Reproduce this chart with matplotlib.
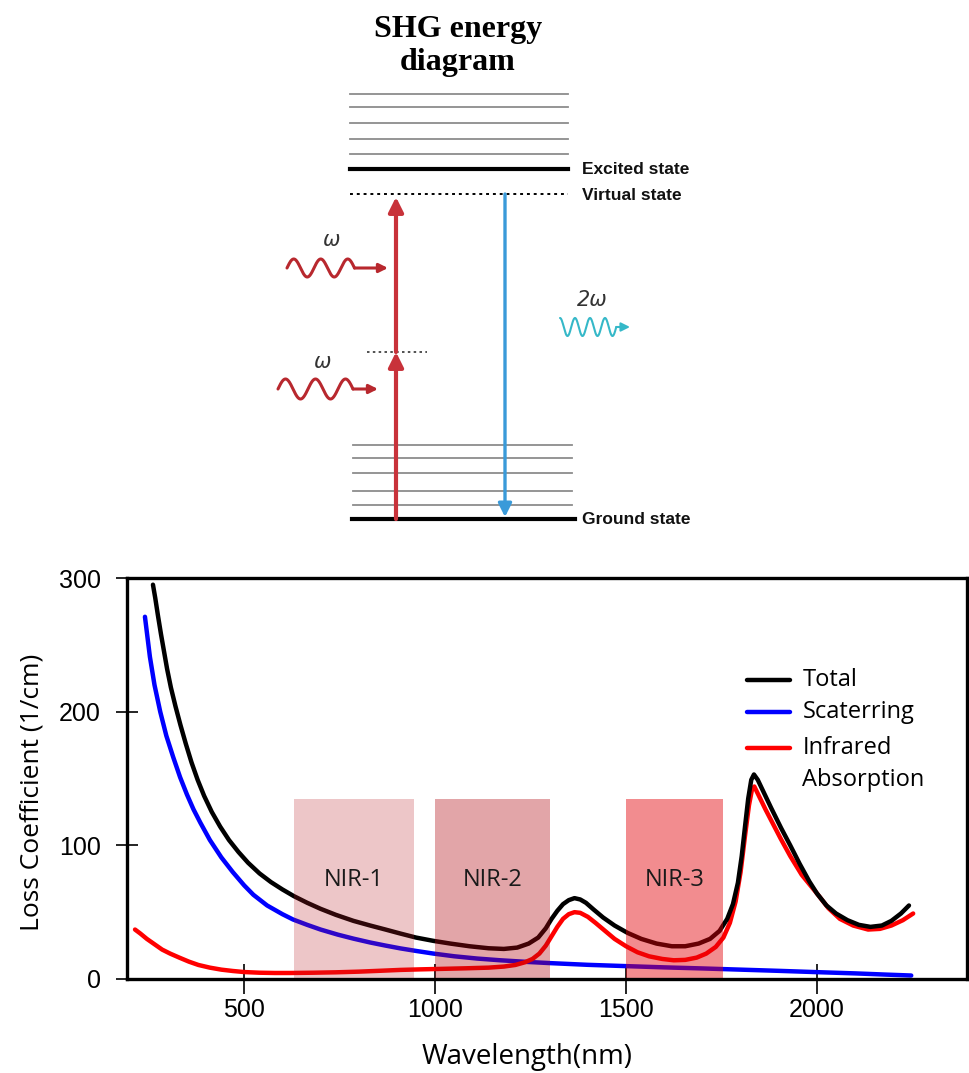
import numpy as np
import matplotlib.pyplot as plt
from matplotlib.patches import Rectangle

# Loss spectra, wavelength in nm and loss coefficient in 1/cm
total_nm = [261, 267, 274, 282, 290, 298, 308, 320, 333, 347, 362, 378, 395, 415,
            437, 460, 485, 510, 540, 570, 600, 630, 665, 700, 740, 786, 830, 870,
            909, 950, 996, 1040, 1090, 1140, 1180, 1215, 1245, 1270, 1290, 1305,
            1320, 1335, 1350, 1365, 1380, 1395, 1415, 1440, 1470, 1504, 1540, 1580,
            1620, 1655, 1690, 1720, 1745, 1765, 1780, 1793, 1803, 1812, 1820, 1828,
            1835, 1845, 1860, 1880, 1906, 1930, 1955, 1980, 2000, 2025, 2050, 2080,
            2110, 2140, 2170, 2195, 2220, 2241]
total_loss = [295, 285, 272, 258, 245, 232, 218, 204, 190, 176, 162, 149, 137, 125,
              114, 104, 95, 87, 79, 72.5, 67, 62, 57, 52.5, 48, 43.5, 40, 37,
              34, 31, 28.5, 26.5, 24.5, 23, 22.5, 23.5, 26.5, 31, 38, 45,
              51, 56, 59, 60.5, 59.5, 57, 52, 46, 40, 34.5, 30, 26.5,
              24.5, 24.5, 26.5, 30, 36, 45, 56, 72, 92, 115, 135, 149,
              153, 149, 140, 128, 113, 100, 86, 73, 64, 55, 49, 44,
              40.5, 39, 40, 43.5, 49, 55]

scatter_nm = [240, 253, 265, 280, 296, 314, 332, 350, 367, 385, 410, 440, 470, 500,
              524, 560, 600, 628, 665, 700, 745, 786, 830, 870, 909, 950, 996, 1050,
              1110, 1171, 1240, 1300, 1400, 1504, 1600, 1700, 1800, 1900, 2003, 2100,
              2180, 2247]
scatter_loss = [271, 241, 220, 200, 182, 166, 151, 138, 127, 117, 104, 91, 80, 70,
                63, 55, 48.5, 44.5, 40.5, 37, 33.2, 30.2, 27.3, 25, 22.9, 21, 19, 17,
                15.3, 14, 12.8, 11.9, 10.6, 9.6, 8.7, 7.9, 7, 6.1, 5.1, 4.2,
                3.3, 2.6]

ir_nm = [214, 228, 245, 265, 285, 306, 330, 355, 380, 410, 440, 470, 500, 540,
         580, 620, 680, 740, 800, 860, 909, 960, 1020, 1080, 1140, 1180, 1210, 1235,
         1255, 1273, 1290, 1305, 1320, 1335, 1350, 1365, 1380, 1400, 1420, 1445,
         1470, 1500, 1530, 1560, 1595, 1625, 1655, 1685, 1710, 1735, 1755, 1772,
         1787, 1800, 1812, 1822, 1830, 1836, 1848, 1865, 1885, 1905, 1930, 1960,
         2000, 2030, 2060, 2095, 2134, 2165, 2195, 2225, 2252]
ir_loss = [37, 34, 30, 26, 22, 19, 16, 13, 10.5, 8.5, 7, 6, 5.2, 4.7,
           4.5, 4.5, 4.7, 5, 5.5, 6.2, 6.8, 7.2, 7.6, 8, 8.5, 9.3, 10.5, 12.5,
           15, 19, 25, 32, 39, 45, 48.5, 50, 49.5, 46.5, 42, 36,
           30, 24.5, 20, 17, 15, 14, 14.3, 16, 19, 24, 31, 42,
           58, 80, 108, 130, 142, 144, 137, 127, 116, 105, 92, 78,
           64, 53, 45, 40, 37, 37.5, 40, 44, 49]

# NIR windows
band_names = ['NIR-1', 'NIR-2', 'NIR-3']
band_start = [630, 1000, 1500]
band_end = [945, 1300, 1755]
band_top = 135
band_label_y = 74
band_colors = ['#b81c24', '#af060e', '#e30007']
band_alpha = [0.25, 0.36, 0.45]

xticks = [500, 1000, 1500, 2000]
yticks = [0, 100, 200, 300]

legend_labels = ['Total', 'Scaterring', 'Infrared\nAbsorption']
legend_colors = ['black', '#0000ff', '#ff0000']

# Energy diagram levels (diagram units, growing downwards)
upper_levels = [94, 107, 123, 139, 154]
excited_level = 169
virtual_level = 194
half_level = 352
lower_levels = [445, 458, 473, 491, 505]
ground_level = 519

fig = plt.figure(figsize=(9.7, 10.73), dpi=100)

# ---- SHG energy diagram ----
ad = fig.add_axes([0, 0, 1, 1])
ad.set_xlim(0, 970)
ad.set_ylim(1073, 0)
ad.axis('off')

ad.text(458, 46, 'SHG energy\ndiagram', ha='center', va='center', fontsize=23,
        fontweight='bold', family='Liberation Serif', linespacing=1.2)

for lv in upper_levels:
    ad.plot([350, 568], [lv, lv], color='#8c8c8c', lw=1.3)
for lv in lower_levels:
    ad.plot([353, 572], [lv, lv], color='#8c8c8c', lw=1.3)
ad.plot([350, 568], [excited_level] * 2, color='black', lw=3)
ad.plot([352, 575], [ground_level] * 2, color='black', lw=3)
ad.plot([350, 568], [virtual_level] * 2, color='black', lw=1.4, ls=(0, (1.5, 2)))
ad.plot([367, 427], [half_level] * 2, color='#333333', lw=1.2, ls=(0, (1.5, 2)))

state_font = dict(fontsize=12.5, fontweight='bold', family='Liberation Sans',
                  va='center', ha='left', color='#111111')
ad.text(582, excited_level, 'Excited state', **state_font)
ad.text(582, virtual_level + 2, 'Virtual state', **state_font)
ad.text(582, ground_level, 'Ground state', **state_font)

red_arrow = '#c8323a'
blue_arrow = '#3a9ad9'
ad.annotate('', xy=(396, half_level), xytext=(396, ground_level),
            arrowprops=dict(arrowstyle='-|>', color=red_arrow, lw=3,
                            mutation_scale=22, shrinkA=0, shrinkB=0))
ad.annotate('', xy=(396, virtual_level + 3), xytext=(396, half_level),
            arrowprops=dict(arrowstyle='-|>', color=red_arrow, lw=3,
                            mutation_scale=22, shrinkA=0, shrinkB=0))
ad.annotate('', xy=(505, ground_level - 2), xytext=(505, virtual_level),
            arrowprops=dict(arrowstyle='-|>', color=blue_arrow, lw=2.4,
                            mutation_scale=20, shrinkA=0, shrinkB=0))


def photon(x0, n_periods, period, tip, yc, amp, color, lw, start='sin'):
    x1 = x0 + n_periods * period
    xs = np.linspace(x0, x1, 300)
    ph = 2 * np.pi * (xs - x0) / period
    ys = yc - amp * (np.sin(ph) if start == 'sin' else np.cos(ph))
    ad.plot(xs, ys, color=color, lw=lw, solid_capstyle='round')
    ad.annotate('', xy=(tip, yc), xytext=(x1, yc),
                arrowprops=dict(arrowstyle='-|>', color=color, lw=lw,
                                mutation_scale=13, shrinkA=0, shrinkB=0))


photon(287, 2.5, 27, 388, 268, 9, '#b8282e', 2.2)
photon(278, 2.5, 30, 378, 389, 10, '#b8282e', 2.2)
photon(560, 3.75, 15, 630, 327, 9, '#35b8c8', 1.5, start='cos')

ad.text(332, 240, 'ω', fontsize=15, style='italic', color='#333333',
        ha='center', va='center')
ad.text(323, 362, 'ω', fontsize=15, style='italic', color='#333333',
        ha='center', va='center')
ad.text(592, 300, '2ω', fontsize=15, style='italic', color='#333333',
        ha='center', va='center')

# ---- loss spectrum ----
ax = fig.add_axes([127 / 970, 1 - 979 / 1073, 840 / 970, 401 / 1073])
ax.set_xlim(193, 2393)
ax.set_ylim(0, 300)

ax.plot(scatter_nm, scatter_loss, color='#0000ff', lw=3.2, solid_capstyle='round',
        solid_joinstyle='round')
ax.plot(ir_nm, ir_loss, color='#ff0000', lw=3.2, solid_capstyle='round',
        solid_joinstyle='round')
ax.plot(total_nm, total_loss, color='black', lw=3.2, solid_capstyle='round',
        solid_joinstyle='round')

for name, x0, x1, c, a in zip(band_names, band_start, band_end, band_colors, band_alpha):
    ax.add_patch(Rectangle((x0, 0), x1 - x0, band_top, facecolor=c, alpha=a,
                           edgecolor='none', zorder=2.3))
    ax.text((x0 + x1) / 2, band_label_y, name, ha='center', va='center',
            fontsize=17, family='Open Sans', color='#1a1a1a', zorder=3)

for spine in ax.spines.values():
    spine.set_linewidth(2.4)

ax.set_xticks(xticks)
ax.set_yticks(yticks)
ax.tick_params(axis='y', direction='inout', length=16, width=1.2, labelsize=18, pad=11)
ax.tick_params(axis='x', direction='inout', length=21, width=1.2, labelsize=18, pad=3)
for lbl in ax.get_xticklabels() + ax.get_yticklabels():
    lbl.set_fontfamily('Liberation Sans')

ax.set_xlabel('Wavelength(nm)', fontsize=20, family='Open Sans')
ax.xaxis.set_label_coords(0.476, -0.195)
ax.xaxis.label.set_va('center')
ax.set_ylabel('Loss Coefficient (1/cm)', fontsize=19, family='Open Sans')
ax.yaxis.set_label_coords(-0.113, 0.466)
ax.yaxis.label.set_va('center')

# legend drawn by hand so the two-line label sits beside its line
row_y = [0.746, 0.666, 0.576]
line_step = 0.08
for lab, c, yy in zip(legend_labels, legend_colors, row_y):
    ax.plot([0.738, 0.789], [yy, yy], transform=ax.transAxes, color=c, lw=3.2,
            solid_capstyle='round')
    for i, part in enumerate(lab.split('\n')):
        ax.text(0.804, yy - i * line_step, part, transform=ax.transAxes, fontsize=17,
                family='Open Sans', va='center', ha='left')

fig.savefig('out.png', dpi=100)
